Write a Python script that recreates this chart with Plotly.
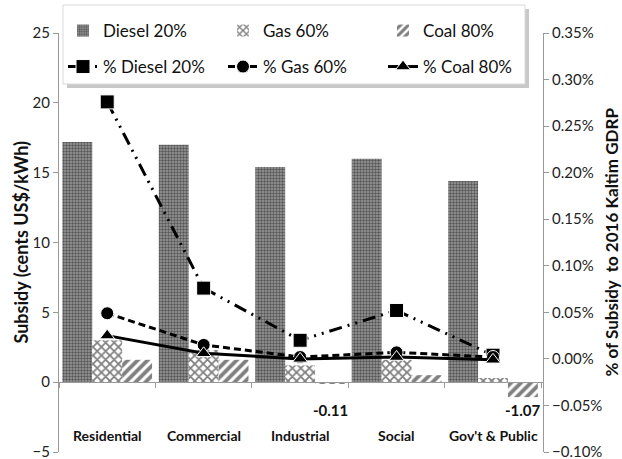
import plotly.graph_objects as go

categories = ["Residential", "Commercial", "Industrial", "Social", "Gov't & Public"]

# Subsidy per kWh (cents US$), left axis
diesel_20 = [17.2, 17.0, 15.4, 16.0, 14.4]
gas_60 = [3.0, 2.3, 1.2, 1.6, 0.3]
coal_80 = [1.6, 1.6, -0.11, 0.5, -1.07]

# Share of subsidy in 2016 Kaltim GDRP (%), right axis
pct_diesel_20 = [0.276, 0.076, 0.020, 0.052, 0.004]
pct_gas_60 = [0.049, 0.015, 0.002, 0.007, 0.002]
pct_coal_80 = [0.025, 0.006, 0.000, 0.002, -0.001]

W, H = 622, 459
L, R, T, B = 59, 543, 33, 452
FONT = "Lato, 'Open Sans', sans-serif"


def px_x(p):
    return (p - L) / (R - L)


def px_y(p):
    return (B - p) / (B - T)


fig = go.Figure()

bar_specs = [
    ("Diesel 20%", diesel_20, dict(shape=".", size=3, solidity=0.5, fgcolor="#111", bgcolor="#9a9a9a")),
    ("Gas 60%", gas_60, dict(shape="x", size=6, solidity=0.5, fgcolor="black", bgcolor="white")),
    ("Coal 80%", coal_80, dict(shape="/", size=7, solidity=0.55, fgcolor="black", bgcolor="white")),
]
for name, vals, pat in bar_specs:
    fig.add_trace(go.Bar(
        x=categories, y=vals, name=name, legend="legend",
        marker=dict(color="white", line=dict(width=0), pattern=pat),
        yaxis="y",
    ))

line_specs = [
    ("% Diesel 20%", pct_diesel_20, "13px,6px,2px,6px,2px,6px", "square", 14),
    ("% Gas 60%", pct_gas_60, "7px,4px", "circle", 13),
    ("% Coal 80%", pct_coal_80, "solid", "triangle-up", 13),
]
for name, vals, dash, sym, size in line_specs:
    fig.add_trace(go.Scatter(
        x=categories, y=vals, name=name, legend="legend2", mode="lines+markers",
        line=dict(color="black", width=3, dash=dash),
        marker=dict(symbol=sym, size=size, color="black",
                    line=dict(color="white", width=1)),
        yaxis="y2",
    ))

annotations = []
# category labels sit near the bottom of the plot area
for c in categories:
    annotations.append(dict(x=c, y=-3.8, xref="x", yref="y", text=f"<b>{c}</b>",
                            showarrow=False, font=dict(size=14, color="#111", family=FONT)))
# value labels for the negative coal bars
for c, v in zip(categories, coal_80):
    if v < 0:
        annotations.append(dict(x=c, y=-2.0, xref="x", yref="y", xshift=30,
                                text=f"<b>{v:.2f}</b>", showarrow=False,
                                font=dict(size=15, color="#111", family=FONT)))
# axis titles
mid_y = 0.5 * (px_y(T) + px_y(B))
annotations.append(dict(x=px_x(20), y=mid_y, xref="paper", yref="paper",
                        xanchor="center", yanchor="middle", showarrow=False, textangle=-90,
                        text="<b>Subsidy (cents US$/kWh)</b>",
                        font=dict(size=18, color="#111", family=FONT)))
annotations.append(dict(x=px_x(611), y=mid_y, xref="paper", yref="paper",
                        xanchor="center", yanchor="middle", showarrow=False, textangle=-90,
                        text="<b>% of Subsidy \u00a0to 2016 Kaltim GDRP</b>",
                        font=dict(size=17, color="#111", family=FONT)))

shapes = [
    # legend frame with a soft offset shadow
    dict(type="rect", xref="paper", yref="paper",
         x0=px_x(67), x1=px_x(529), y0=px_y(88), y1=px_y(9),
         fillcolor="#c8c8c8", line=dict(width=0), layer="below"),
    dict(type="rect", xref="paper", yref="paper",
         x0=px_x(63), x1=px_x(525), y0=px_y(84), y1=px_y(5),
         fillcolor="white", line=dict(color="#d9d9d9", width=1), layer="below"),
]

fig.update_layout(
    width=W, height=H,
    margin=dict(l=L, r=W - R, t=T, b=H - B, autoexpand=False),
    paper_bgcolor="white", plot_bgcolor="white",
    font=dict(family=FONT, size=14, color="#222"),
    barmode="group", bargap=0.07, bargroupgap=0,
    xaxis=dict(type="category", anchor="free", position=px_y(382),
               showline=True, linecolor="#999", linewidth=1,
               ticks="outside", ticklen=5, tickcolor="#999", tickson="boundaries",
               showticklabels=False, showgrid=False, zeroline=False),
    yaxis=dict(range=[-5, 25], dtick=5, showgrid=False, zeroline=False,
               showline=True, linecolor="#999", ticks="outside", ticklen=5,
               tickcolor="#999", tickfont=dict(size=15), ticklabeloverflow="allow",
               automargin=False),
    yaxis2=dict(range=[-0.10, 0.35], dtick=0.05, tickformat=".2f", ticksuffix="%",
                overlaying="y", side="right", showgrid=False, zeroline=False,
                showline=True, linecolor="#999", ticks="outside", ticklen=5,
                tickcolor="#999", tickfont=dict(size=15), ticklabeloverflow="allow",
                automargin=False),
    legend=dict(orientation="h", x=px_x(63), y=px_y(13), xanchor="left", yanchor="top",
                entrywidth=115, entrywidthmode="pixels", bgcolor="rgba(0,0,0,0)",
                font=dict(size=17, color="#111"), traceorder="normal"),
    legend2=dict(orientation="h", x=px_x(63), y=px_y(49), xanchor="left", yanchor="top",
                 entrywidth=115, entrywidthmode="pixels", bgcolor="rgba(0,0,0,0)",
                 font=dict(size=17, color="#111"), traceorder="normal"),
    annotations=annotations,
    shapes=shapes,
)

fig.write_html("out.html")
